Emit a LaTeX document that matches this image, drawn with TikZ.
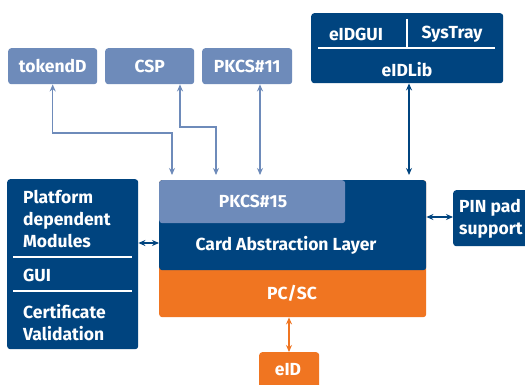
\documentclass[tikz,border=0pt]{standalone}
\usepackage{fontspec}
\setmainfont{Fira Sans}
\usetikzlibrary{arrows.meta,calc}
\definecolor{dblue}{HTML}{00447F}
\definecolor{lblue}{HTML}{6E8BBA}
\definecolor{orng}{HTML}{F07521}
\begin{document}
\begin{tikzpicture}[x=1pt,y=-1pt,
  box/.style={rounded corners=3pt, inner sep=0pt, anchor=north west, draw=none},
  txt/.style={inner sep=0pt, text=white, font=\bfseries\fontsize{17.5}{22}\selectfont},
  ltxt/.style={txt, anchor=west, align=left},
  wl/.style={white, line width=2.7pt},
  tip/.style={{Stealth[length=7pt,width=6pt]}-{Stealth[length=7pt,width=6pt]}},
  la/.style={tip, draw=lblue, line width=1.4pt},
  da/.style={tip, draw=dblue, line width=1.6pt},
  oa/.style={tip, draw=orng, line width=1.6pt}]
\fill[white] (0,0) rectangle (525,385);
\useasboundingbox (0,0) rectangle (525,385);

% top boxes
\node[box, fill=lblue, minimum width=89, minimum height=36] (tok) at (8,48) {};
\node[txt] (tokt) at (tok.center) {tokendD};
\node[box, fill=lblue, minimum width=89, minimum height=36] (csp) at (105,48) {};
\node[txt] (cspt) at (csp.center) {CSP};
\node[box, fill=lblue, minimum width=90, minimum height=36] (p11) at (202,48) {};
\node[txt] (p11t) at (p11.center) {PKCS\#11};

% eIDLib
\node[box, fill=dblue, minimum width=192, minimum height=70] (lib) at (311,13) {};
\node[txt] (gui) at (356,34) {eIDGUI};
\node[txt] (sys) at (452,34) {SysTray};
\node[txt] (libt) at (407,70) {eIDLib};
\draw[wl] (318,48) -- (495,48);
\draw[wl] (407,19) -- (407,48);

% main stack
\node[box, fill=orng, minimum width=267, minimum height=137] (main) at (159,180) {};
\node[box, fill=dblue, minimum width=267, minimum height=90] (cal) at (159,180) {};
\node[box, fill=lblue, minimum width=186, minimum height=43] (p15) at (159,180) {};
\node[txt] (p15t) at (253,201) {PKCS\#15};
\node[txt] (calt) at (286,245) {Card Abstraction Layer};
\node[txt] (pcsc) at (292,293) {PC/SC};

% left box
\node[box, fill=dblue, minimum width=131, minimum height=170] (plat) at (7,179) {};
\node[ltxt] (platt) at (23,219) {Platform\\dependent\\Modules};
\node[ltxt] (guit) at (23,275) {GUI};
\node[ltxt] (cert) at (23,323) {Certificate\\Validation};
\draw[wl] (13,257) -- (132,257);
\draw[wl] (13,291) -- (132,291);

% PIN pad
\node[box, fill=dblue, minimum width=80, minimum height=56] (pin) at (453,190) {};
\node[ltxt] (pint) at (459,219) {PIN pad\\support};

% eID
\node[box, fill=orng, minimum width=60, minimum height=40] (eid) at (259,352) {};
\node[txt] (eidt) at (288,370) {eID};

% connectors
\coordinate (a1) at (172,175);
\coordinate (a2) at (216,175);
\coordinate (a3) at (260,175);
\coordinate (a4) at (409,175);
\draw[la] (tok.south) |- (a1 |- 0,133) -- (a1);
\draw[la] (csp.south -| 180,0) |- (a2 |- 0,127) -- (a2);
\draw[la] (p11.south -| a3) -- (a3);
\draw[da] (lib.south -| a4) -- (a4);
\draw[da] (plat.east |- 0,243) -- (main.west |- 0,243);
\draw[da] (main.east |- 0,217) -- (pin.west |- 0,217);
\draw[oa] (eid.north -| 289,0) -- (main.south -| 289,0);
\end{tikzpicture}
\end{document}
